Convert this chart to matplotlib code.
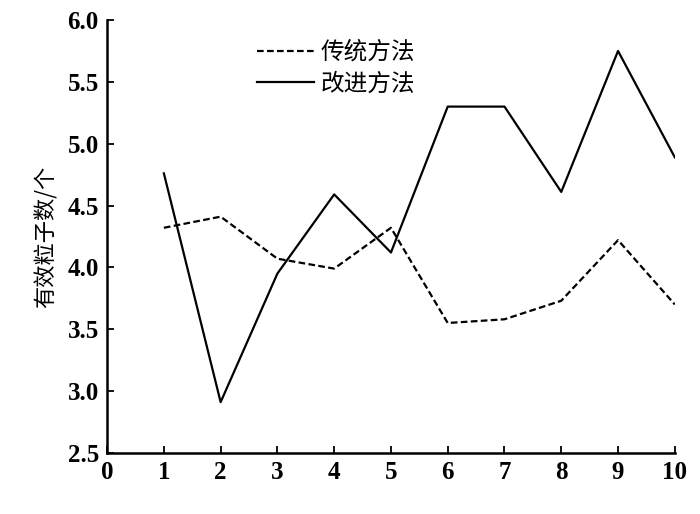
import matplotlib
matplotlib.use("Agg")
import matplotlib.pyplot as plt

# data
x = [1, 2, 3, 4, 5, 6, 7, 8, 9, 10]
traditional = [4.32, 4.41, 4.07, 3.99, 4.32, 3.55, 3.58, 3.73, 4.22, 3.70]
improved = [4.76, 2.91, 3.95, 4.59, 4.12, 5.30, 5.30, 4.61, 5.75, 4.89]
labels = ['传统方法', '改进方法']
ylabel = '有效粒子数/个'

cjk = ['Noto Sans CJK SC', 'DejaVu Sans']
tick_font = {'family': 'Liberation Serif', 'weight': 'bold', 'size': 18}

fig = plt.figure(figsize=(7, 5.14), dpi=100)
ax = fig.add_axes([0.153, 0.119, 0.811, 0.842])

ax.plot(x, traditional, color='black', lw=1.6, ls=(0, (3, 1.5)), label=labels[0])
ax.plot(x, improved, color='black', lw=1.6, ls='-', label=labels[1])

ax.set_xlim(0, 10)
ax.set_ylim(2.5, 6.0)
ax.set_xticks(range(0, 11))
ax.set_yticks([2.5, 3.0, 3.5, 4.0, 4.5, 5.0, 5.5, 6.0])
ax.set_xticklabels([str(i) for i in range(0, 11)], fontdict=tick_font)
ax.set_yticklabels([f'{v:.1f}' for v in ax.get_yticks()], fontdict=tick_font)
ax.tick_params(direction='in', length=5, width=1.3, pad=6)

for s in ['top', 'right']:
    ax.spines[s].set_visible(False)
for s in ['left', 'bottom']:
    ax.spines[s].set_linewidth(1.8)

ax.set_ylabel(ylabel, family=cjk, fontsize=16, labelpad=7)

leg = ax.legend(loc='upper left', bbox_to_anchor=(0.235, 0.99), frameon=False,
                handlelength=2.4, handletextpad=0.3, labelspacing=0.36,
                borderpad=0.2, prop={'family': cjk, 'size': 17})

fig.savefig('out.png', dpi=100)
